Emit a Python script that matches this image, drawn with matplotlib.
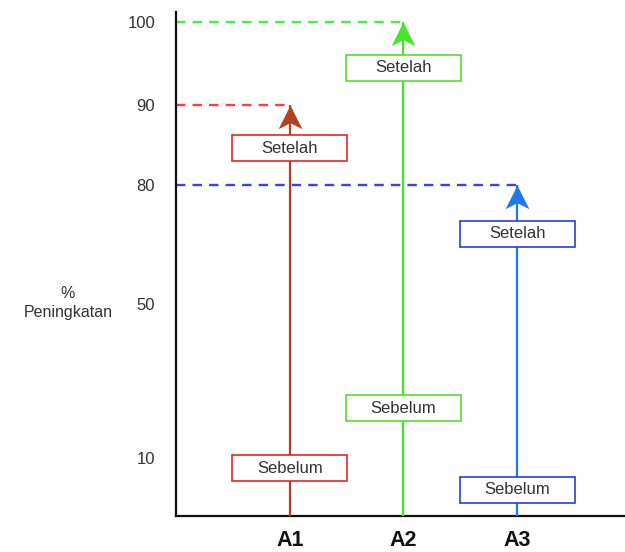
import numpy as np
import matplotlib
matplotlib.use("Agg")
import matplotlib.pyplot as plt
from matplotlib.patches import Rectangle
from matplotlib.path import Path
import matplotlib.transforms as mtransforms

plt.rcParams['font.family'] = ['Liberation Sans', 'DejaVu Sans']

# ---- data ----
categories = ['A1', 'A2', 'A3']
setelah_values = [90, 100, 80]
y_ticks = [10, 50, 80, 90, 100]
label_before = 'Sebelum'
label_after = 'Setelah'
y_label = '%\nPeningkatan'

# ---- styles ----
arrow_colors = ['#b5401f', '#44e62a', '#2277ee']
dash_colors = ['#ff2a2a', '#33ee33', '#2a2aee']
box_colors = ['#e02828', '#55dd30', '#2a40d0']
text_color = '#333333'

# nonlinear axis mapping (value -> vertical pixel height above axis)
scale_vals = [0, 10, 50, 80, 90, 100, 110]
scale_h = [0, 58, 212, 331, 411, 494, 576]

def fwd(v):
    return np.interp(v, scale_vals, scale_h)

def inv(h):
    return np.interp(h, scale_h, scale_vals)

W, H = 625, 552
fig = plt.figure(figsize=(W / 100, H / 100), dpi=100)
ax_left, ax_bottom_px, ax_top_px = 176, 516, 12
ax = fig.add_axes([ax_left / W, (H - ax_bottom_px) / H,
                   (W - ax_left) / W, (ax_bottom_px - ax_top_px) / H])
ax.set_yscale('function', functions=(fwd, inv))
ax.set_ylim(0, inv(ax_bottom_px - ax_top_px))
x = np.arange(1, len(categories) + 1)
ax.set_xlim(0, 1 + (W - 289) / 114)

for s in ['top', 'right']:
    ax.spines[s].set_visible(False)
for s in ['left', 'bottom']:
    ax.spines[s].set_linewidth(1.6)
    ax.spines[s].set_color('#111111')

ax.set_yticks(y_ticks)
ax.set_yticklabels([str(t) for t in y_ticks])
ax.tick_params(axis='y', length=0, pad=15, labelsize=12, labelcolor=text_color)
ax.set_xticks(x)
ax.set_xticklabels(categories, fontweight='bold', fontsize=15.5)
ax.tick_params(axis='x', length=0, pad=10, labelcolor='#111111')
ax.yaxis.set_minor_locator(matplotlib.ticker.NullLocator())

# dashed reference lines
for xi, v, c in zip(x, setelah_values, dash_colors):
    ax.plot([0, xi], [v, v], color=c, lw=1.7, dashes=(4, 3.0), alpha=0.9, zorder=2)

# arrows from 0 to value (stem + stealth-shaped head)
head = Path([(0, 0), (-0.5, -1), (0, -0.75), (0.5, -1), (0, 0)],
            [Path.MOVETO, Path.LINETO, Path.LINETO, Path.LINETO, Path.CLOSEPOLY])
for xi, v, c in zip(x, setelah_values, arrow_colors):
    ax.plot([xi, xi], [0, v], color=c, lw=1.6, zorder=3, solid_capstyle='butt')
    ax.plot([xi], [v], marker=head, markersize=34, color=c,
            markeredgewidth=0, zorder=3, clip_on=False)

# label boxes (positions in axes-fraction for y)
after_box_y = [0.730, 0.889, 0.560]
before_box_y = [0.0952, 0.214, 0.0516]
box_w = 115 / 114
box_h = 26 / 504
trans = mtransforms.blended_transform_factory(ax.transData, ax.transAxes)
for xi, ya, yb, bc in zip(x, after_box_y, before_box_y, box_colors):
    for yc, txt in [(ya, label_after), (yb, label_before)]:
        ax.add_patch(Rectangle((xi - box_w / 2, yc - box_h / 2), box_w, box_h,
                               transform=trans, facecolor='white',
                               edgecolor=bc, lw=1.2, zorder=4, clip_on=False))
        ax.text(xi, yc, txt, transform=trans, ha='center', va='center',
                fontsize=12, color=text_color, zorder=5)

fig.text(68 / W, 1 - 303 / H, y_label, ha='center', va='center',
         fontsize=11.5, color=text_color, linespacing=1.25)

fig.savefig('out.png', dpi=100)
